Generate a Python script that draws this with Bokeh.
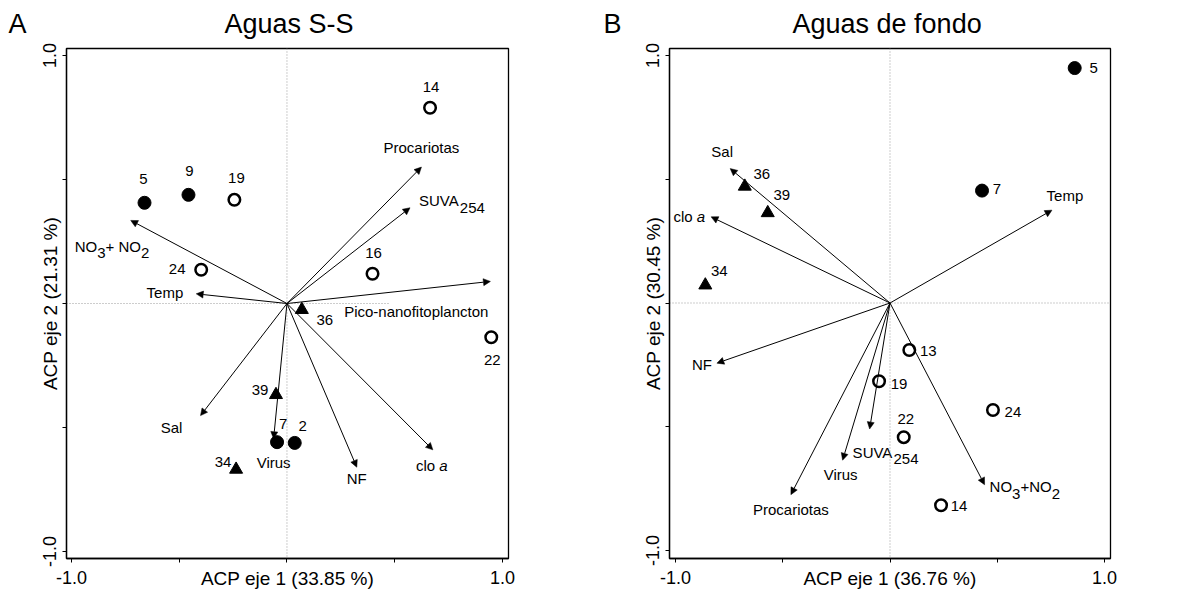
import re
from bokeh.plotting import figure
from bokeh.layouts import row
from bokeh.models import (Arrow, NormalHead, Span, FixedTicker,
                          PrintfTickFormatter, ColumnDataSource)
from bokeh.core.properties import value
from bokeh.embed import file_html
from bokeh.resources import INLINE

# ---------------- Panel A: Aguas S-S ----------------
a_letter = "A"
a_title = "Aguas S-S"
a_xlabel = "ACP eje 1 (33.85 %)"
a_ylabel = "ACP eje 2 (21.31 %)"
a_sites = ["5", "9", "19", "14", "24", "16", "22", "36", "39", "7", "2", "34"]
a_pc1 = [-0.661, -0.457, -0.244, 0.664, -0.398, 0.397, 0.948, 0.069, -0.051, -0.046, 0.036, -0.236]
a_pc2 = [0.406, 0.438, 0.418, 0.789, 0.136, 0.120, -0.136, -0.025, -0.368, -0.559, -0.562, -0.669]
a_group = ["filled", "filled", "open", "open", "open", "open", "open", "tri", "tri", "filled", "filled", "tri"]
a_vars = ["Procariotas", "SUVA_254", "NO_3+ NO_2", "Temp", "Pico-nanofitoplancton",
          "Sal", "Virus", "NF", "clo *a*"]
a_v1 = [0.624, 0.571, -0.725, -0.421, 0.944, -0.401, -0.062, 0.324, 0.677]
a_v2 = [0.550, 0.386, 0.335, 0.039, 0.089, -0.452, -0.545, -0.660, -0.590]

# ---------------- Panel B: Aguas de fondo ----------------
b_letter = "B"
b_title = "Aguas de fondo"
b_xlabel = "ACP eje 1 (36.76 %)"
b_ylabel = "ACP eje 2 (30.45 %)"
b_sites = ["5", "7", "36", "39", "34", "13", "19", "24", "22", "14"]
b_pc1 = [0.861, 0.429, -0.677, -0.570, -0.861, 0.090, -0.051, 0.480, 0.064, 0.238]
b_pc2 = [0.949, 0.454, 0.471, 0.364, 0.072, -0.190, -0.316, -0.432, -0.542, -0.817]
b_group = ["filled", "filled", "tri", "tri", "tri", "open", "open", "open", "open", "open"]
b_vars = ["Sal", "clo *a*", "Temp", "NF", "Procariotas", "Virus", "SUVA_254", "NO_3+NO_2"]
b_v1 = [-0.745, -0.834, 0.755, -0.807, -0.462, -0.221, -0.095, 0.441]
b_v2 = [0.543, 0.348, 0.375, -0.243, -0.774, -0.635, -0.509, -0.734]

# ---------------- styling (label offsets in screen px) ----------------
FONT = "Liberation Sans"
FS = 15          # point / variable label size
SUB = 7          # subscript drop in px
A_PT_OFF = [(-1, -24), (1, -24), (2, -22), (1, -21), (-24, -1), (1, -21), (1, 23),
            (23, 10), (-16, -5), (6, -18), (8, -17), (-13, -7)]
A_VAR_OFF = [(0, -20, "center"), (9, -7, "left"), (-56, 26, "left"), (-13, -1, "right"),
             (-2, 30, "right"), (-29, 12, "center"), (0, 24, "center"), (0, 11, "center"),
             (-1, 16, "center")]
B_PT_OFF = [(19, 0), (15, -2), (17, -12), (14, -18), (14, -14), (19, 1), (20, 3), (20, 2),
            (2, -18), (18, 1)]
B_VAR_OFF = [(-8, -17, "center"), (-6, 0, "right"), (13, -15, "center"), (-5, 1, "right"),
             (0, 15, "center"), (-2, 14, "center"), (-17, 23, "left"), (5, 2, "left")]

CHAR_W = {"N": .722, "O": .778, "+": .584, " ": .278, "S": .667, "U": .722, "V": .667,
          "A": .667, "c": .5, "l": .222, "o": .556, "a": .556}
EN, NB = "\u2002", "\u00a0"   # fixed-width spaces that separate panel letter and title


def text_w(s, size):
    return sum(CHAR_W.get(c, 0.556) for c in s) * size


def parse(label):
    segs = []
    for m in re.finditer(r"_(\w+)|\*(\w+)\*|([^_*]+)", label):
        if m.group(1):
            segs.append((m.group(1), "sub"))
        elif m.group(2):
            segs.append((m.group(2), "it"))
        else:
            segs.append((m.group(3), "n"))
    return segs


def make_fig(width, xr, yr, bl, br, bt, bb, heading, title_off, title_standoff,
             xlabel, ylabel):
    p = figure(width=width, height=600, x_range=xr, y_range=yr,
               output_backend="svg", toolbar_location=None,
               min_border_left=bl, min_border_right=br,
               min_border_top=bt, min_border_bottom=bb)
    p.grid.visible = False
    p.outline_line_color = "black"
    p.outline_line_width = 1.3
    p.outline_line_alpha = 1
    for ax in (p.xaxis[0], p.yaxis[0]):
        ax.ticker = FixedTicker(ticks=[-1, 1], minor_ticks=[-0.5, 0, 0.5])
        ax.formatter = PrintfTickFormatter(format="%.1f")
        ax.major_tick_out = 4
        ax.major_tick_in = 0
        ax.minor_tick_out = 4
        ax.minor_tick_in = 0
        ax.major_tick_line_color = "black"
        ax.minor_tick_line_color = "black"
        ax.axis_line_color = "black"
        ax.axis_line_width = 1.3
        ax.major_label_text_font = FONT
        ax.major_label_text_font_size = "18px"
        ax.major_label_text_color = "black"
        ax.axis_label_text_font = FONT
        ax.axis_label_text_font_size = "19px"
        ax.axis_label_text_font_style = "normal"
        ax.axis_label_text_color = "black"
    p.xaxis[0].major_label_standoff = 8
    p.xaxis[0].axis_label = xlabel
    p.xaxis[0].axis_label_standoff = -19
    p.yaxis[0].major_label_standoff = 6
    p.yaxis[0].major_label_orientation = "vertical"
    p.yaxis[0].axis_label = ylabel
    p.yaxis[0].axis_label_standoff = -20
    # panel letter + main title on one line
    p.title.text = heading
    p.title.align = "left"
    p.title.vertical_align = "top"
    p.title.offset = title_off
    p.title.standoff = title_standoff
    p.title.text_font = FONT
    p.title.text_font_size = "27px"
    p.title.text_font_style = "normal"
    p.title.text_color = "black"
    return p


def draw_panel(p, sites, pc1, pc2, group, vars_, v1, v2, pt_off, var_off, hline_end):
    # reference lines
    p.add_layout(Span(location=0, dimension="height", line_color="#9a9a9a",
                      line_dash="1 2", line_width=1))
    p.segment(x0=[p.x_range.start], y0=[0], x1=[hline_end], y1=[0],
              line_color="#9a9a9a", line_dash="1 2", line_width=1)
    # variable arrows
    src = ColumnDataSource(dict(x1=v1, y1=v2))
    p.add_layout(Arrow(end=NormalHead(size=7, fill_color="black", line_color="black",
                                      line_width=0.5),
                       x_start=0, y_start=0, x_end="x1", y_end="y1", source=src,
                       line_color="black", line_width=1))
    # variable labels
    for name, x, y, (dx, dy, align) in zip(vars_, v1, v2, var_off):
        segs = parse(name)
        if len(segs) == 1:
            p.text(x=[x], y=[y], text=[name], x_offset=dx, y_offset=dy,
                   text_align=align, text_baseline="middle", text_font=value(FONT),
                   text_font_size=f"{FS}px", text_color="black")
            continue
        widths = [text_w(t, FS) for t, _ in segs]
        total = sum(widths)
        acc = dx - (total / 2 if align == "center" else total if align == "right" else 0)
        for (t, kind), w in zip(segs, widths):
            p.text(x=[x], y=[y], text=[t], x_offset=acc,
                   y_offset=dy + (SUB if kind == "sub" else 0),
                   text_align="left", text_baseline="middle", text_font=value(FONT),
                   text_font_size=f"{FS}px", text_color="black",
                   text_font_style="italic" if kind == "it" else "normal")
            acc += w
    # points
    for g, marker, fill, lw, size in [("filled", "circle", "black", 1, 13),
                                      ("open", "circle", "white", 2.5, 11.5),
                                      ("tri", "triangle", "black", 1, 13)]:
        xs = [x for x, gg in zip(pc1, group) if gg == g]
        ys = [y for y, gg in zip(pc2, group) if gg == g]
        p.scatter(xs, ys, marker=marker, size=size, fill_color=fill,
                  line_color="black", line_width=lw)
    # point labels
    lab = ColumnDataSource(dict(x=pc1, y=pc2, t=sites,
                                dx=[o[0] for o in pt_off], dy=[o[1] for o in pt_off]))
    p.text(x="x", y="y", text="t", x_offset="dx", y_offset="dy", source=lab,
           text_align="center", text_baseline="middle", text_font=value(FONT),
           text_font_size=f"{FS}px", text_color="black")


# left panel: frame at x 66..508, y 48..558 of the 597x600 canvas
pA = make_fig(597, (-1.023, 1.028), (-1.028, 1.028), 66, 89, 48, 42,
              a_letter + EN * 13 + NB * 3 + a_title, -58, 16, a_xlabel, a_ylabel)
draw_panel(pA, a_sites, a_pc1, a_pc2, a_group, a_vars, a_v1, a_v2, A_PT_OFF, A_VAR_OFF, 0.48)

# right panel: frame at x 72..513, y 46..563 of the 600x600 canvas
pB = make_fig(600, (-1.028, 1.028), (-1.032, 1.028), 72, 87, 46, 37,
              b_letter + EN * 11 + NB * 3 + b_title, -66, 15, b_xlabel, b_ylabel)
draw_panel(pB, b_sites, b_pc1, b_pc2, b_group, b_vars, b_v1, b_v2, B_PT_OFF, B_VAR_OFF, 1.028)

layout = row(pA, pB)
open("out.html", "w").write(file_html(layout, INLINE))
